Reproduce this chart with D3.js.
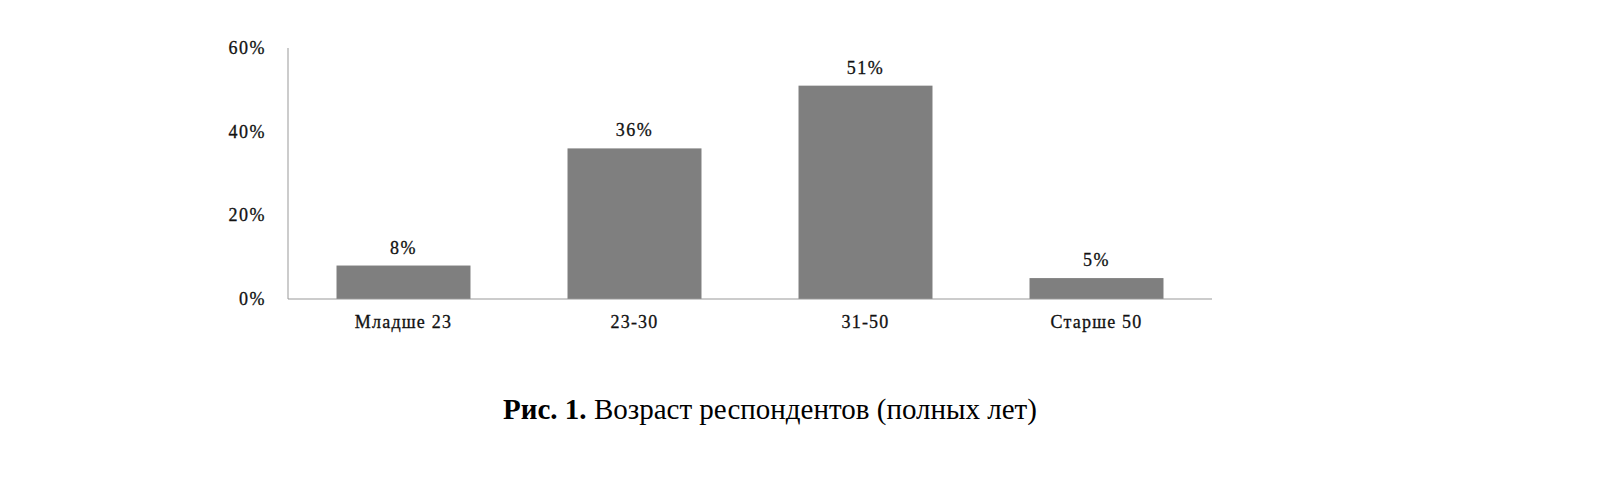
<!DOCTYPE html>
<html><head><meta charset="utf-8">
<script src="https://cdn.jsdelivr.net/npm/d3@7"></script>
<style>body{margin:0;background:#fff}</style></head>
<body><svg id="c" width="1600" height="482"></svg>
<script>
const categories = ["Младше 23","23-30","31-50","Старше 50"];
const values = [8,36,51,5];
const yTicks = [0,20,40,60];
const svg = d3.select("#c");
const x = d3.scaleBand().domain(categories).range([288,1212]).paddingInner(0.42).paddingOuter(0.21);
const y = d3.scaleLinear().domain([0,60]).range([299,48]);
const font = "Liberation Serif";
svg.selectAll("rect.bar").data(values).join("rect")
  .attr("x",(d,i)=>x(categories[i])).attr("width",x.bandwidth())
  .attr("y",d=>y(d)).attr("height",d=>y(0)-y(d)).attr("fill","#7f7f7f");
svg.append("line").attr("x1",288).attr("x2",288).attr("y1",y(60)).attr("y2",y(0)).attr("stroke","#999");
svg.append("line").attr("x1",288).attr("x2",1212).attr("y1",y(0)).attr("y2",y(0)).attr("stroke","#999");
svg.selectAll("text.yt").data(yTicks).join("text")
  .attr("x",266).attr("y",d=>y(d)+6).attr("text-anchor","end")
  .attr("font-family",font).attr("font-size",18).attr("letter-spacing",1.5).attr("fill","#111")
  .attr("stroke","#111").attr("stroke-width",0.3)
  .text(d=>d+"%");
svg.selectAll("text.xl").data(categories).join("text")
  .attr("x",d=>x(d)+x.bandwidth()/2).attr("y",328).attr("text-anchor","middle")
  .attr("font-family",font).attr("font-size",18).attr("letter-spacing",1.2).attr("fill","#111")
  .attr("stroke","#111").attr("stroke-width",0.3)
  .text(d=>d);
svg.selectAll("text.vl").data(values).join("text")
  .attr("x",(d,i)=>x(categories[i])+x.bandwidth()/2).attr("y",d=>y(d)-12).attr("text-anchor","middle")
  .attr("font-family",font).attr("font-size",18).attr("letter-spacing",1.5).attr("fill","#111")
  .attr("stroke","#111").attr("stroke-width",0.3)
  .text(d=>d+"%");
const cap = svg.append("text").attr("x",770).attr("y",419).attr("text-anchor","middle")
  .attr("font-family",font).attr("font-size",29).attr("fill","#000");
cap.append("tspan").attr("font-weight","bold").text("Рис. 1.");
cap.append("tspan").text(" Возраст респондентов (полных лет)");
</script></body></html>
